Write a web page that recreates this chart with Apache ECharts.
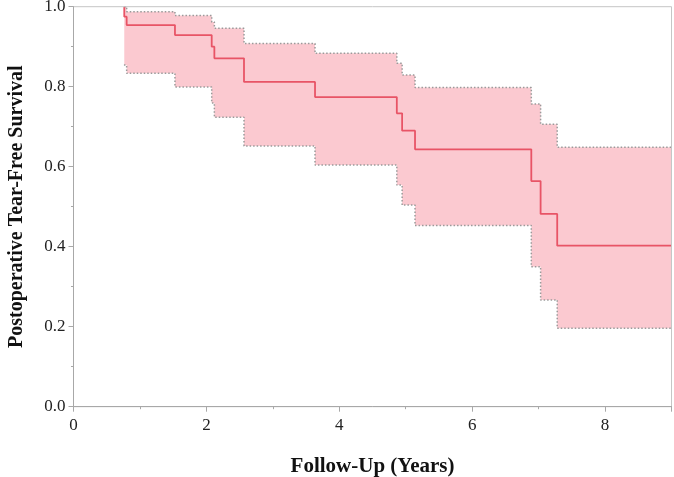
<!DOCTYPE html>
<html>
<head>
<meta charset="utf-8">
<script src="https://cdn.jsdelivr.net/npm/echarts@6/dist/echarts.min.js"></script>
<style>
  html, body { margin: 0; padding: 0; background: #fff; }
  #chart { width: 674px; height: 477px; }
</style>
</head>
<body>
<div id="chart"></div>
<script>
// Kaplan-Meier estimate (step changes at each time)
var survTime = [0.764, 0.764, 0.80, 1.527, 2.08, 2.12, 2.566, 3.635, 4.866, 4.946, 5.14, 6.89, 7.03, 7.28, 9]
var survival = [1.0, 0.975, 0.954, 0.929, 0.90, 0.871, 0.812, 0.774, 0.7335, 0.69, 0.6435, 0.564, 0.482, 0.4025, 0.4025]

// confidence band, same times from the first event on
var ciTime = [0.764, 0.80, 1.527, 2.08, 2.12, 2.566, 3.635, 4.866, 4.946, 5.14, 6.89, 7.03, 7.28, 9]
var ciLower = [0.854, 0.8335, 0.799, 0.759, 0.7235, 0.652, 0.604, 0.554, 0.504, 0.453, 0.35, 0.267, 0.196, 0.196]
var ciUpper = [1.0, 0.9875, 0.978, 0.962, 0.946, 0.908, 0.8835, 0.8585, 0.829, 0.798, 0.757, 0.706, 0.6485, 0.6485]

var xTicks = [0, 2, 4, 6, 8]

var chart = echarts.init(document.getElementById('chart'))

var survData = survTime.map(function (t, i) { return [t, survival[i]] })
var upData = ciTime.map(function (t, i) { return [t, ciUpper[i]] })
// white fill under the lower limit starts a hair earlier so no pink seam is left
var lowData = ciTime.map(function (t, i) { return [i === 0 ? t - 0.005 : t, ciLower[i]] })

var serif = '"Liberation Serif", "Times New Roman", serif'
var dotted = { color: '#9a9a9a', width: 1.5, type: [1.5, 2] }
var axisGrey = '#a8a8a8'

chart.setOption({
  animation: false,
  grid: {
    left: 73.5,
    right: 2.5,
    top: 6.7,
    bottom: 70.3,
    outerBoundsMode: 'none',
    containLabel: false,
    show: true,
    borderColor: '#c6c6c6',
    borderWidth: 1,
    z: 10,
  },
  xAxis: [
    {
      type: 'value',
      min: 0,
      max: 9,
      interval: 2,
      z: 10,
      name: 'Follow-Up (Years)',
      nameLocation: 'middle',
      nameGap: 49,
      nameTextStyle: { fontFamily: serif, fontWeight: 'bold', fontSize: 21, color: '#111' },
      axisLine: { show: true, lineStyle: { color: axisGrey } },
      axisTick: { show: true, length: 5, lineStyle: { color: axisGrey } },
      axisLabel: {
        fontFamily: serif,
        fontSize: 17,
        color: '#222',
        margin: 10,
        formatter: function (v) { return xTicks.indexOf(v) >= 0 ? String(v) : '' },
      },
      splitLine: { show: false },
    },
    {
      // short ticks at the odd years
      type: 'value',
      position: 'bottom',
      min: 0,
      max: 9,
      interval: 1,
      z: 10,
      axisLine: { show: false },
      axisTick: { show: true, length: 2.5, lineStyle: { color: axisGrey } },
      axisLabel: { show: false },
      splitLine: { show: false },
    },
  ],
  yAxis: {
    type: 'value',
    min: 0,
    max: 1,
    interval: 0.2,
    z: 10,
    name: 'Postoperative Tear-Free Survival',
    nameLocation: 'middle',
    nameGap: 47,
    nameTextStyle: { fontFamily: serif, fontWeight: 'bold', fontSize: 20, color: '#111' },
    axisLine: { show: true, lineStyle: { color: axisGrey } },
    axisTick: { show: true, length: 5, lineStyle: { color: axisGrey } },
    minorTick: { show: true, splitNumber: 2, length: 2.5, lineStyle: { color: axisGrey } },
    axisLabel: {
      fontFamily: serif,
      fontSize: 17,
      color: '#222',
      margin: 8,
      formatter: function (v) { return v.toFixed(1) },
    },
    splitLine: { show: false },
  },
  series: [
    {
      // upper limit, filled pink down to 0
      name: 'upper',
      type: 'line',
      step: 'end',
      symbol: 'none',
      data: upData,
      lineStyle: dotted,
      areaStyle: { color: '#fbc9d0', opacity: 1 },
      z: 2,
    },
    {
      // lower limit, white fill clears the area below the band
      name: 'lower',
      type: 'line',
      step: 'end',
      symbol: 'none',
      data: lowData,
      lineStyle: dotted,
      areaStyle: { color: '#ffffff', opacity: 1 },
      z: 3,
    },
    {
      name: 'survival',
      type: 'line',
      step: 'end',
      symbol: 'none',
      data: survData,
      lineStyle: { color: '#e85466', width: 1.8 },
      z: 4,
    },
  ],
})
</script>
</body>
</html>
